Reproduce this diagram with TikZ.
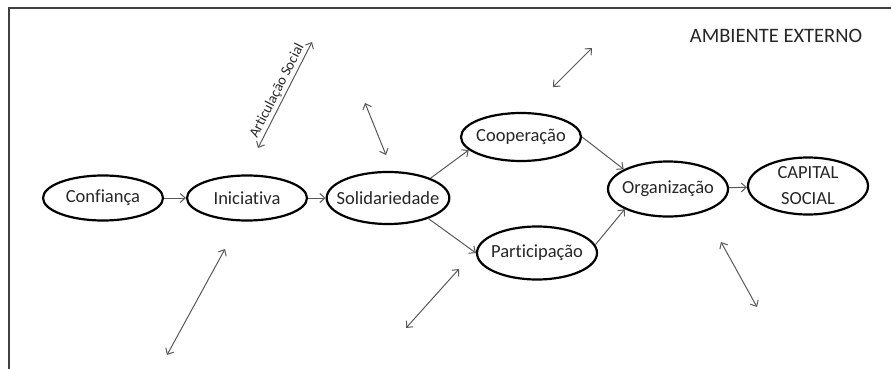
\documentclass[tikz,border=0pt]{standalone}
\usepackage{fontspec}
\setmainfont{Carlito}[Ligatures=CommonOff]
\usetikzlibrary{shapes,arrows.meta}

\begin{document}
\begin{tikzpicture}[x=1pt,y=-1pt,
        >={Straight Barb[length=5pt,width=9pt]},
        phase/.style={ellipse,draw,line width=2.2pt,minimum width=120pt,minimum height=48pt,
            inner xsep=-8pt,inner ysep=0pt,text=black!85,font=\fontsize{18.5}{21}\selectfont},
        flow/.style={->,draw=black!65,line width=1pt},
        link/.style={<->,draw=black!65,line width=1pt}]
        \useasboundingbox (0,0) rectangle (891,369);
        \draw[black!75,line width=2pt] (9,369) -- (9,8) -- (891,8);
        \draw node[text=black!85,font=\fontsize{20.5}{23}\selectfont] (amb) at (776,36) {AMBIENTE EXTERNO};
        % chain of ellipses
        \node[phase,minimum height=45pt] (conf) at (103,198) {Confiança};
        \node[phase,minimum height=45pt] (inic) at (247,198) {Iniciativa};
        \node[phase,minimum height=52pt] (sol) at (388,198) {Solidariedade};
        \node[phase] (coop) at (521,137) {Cooperação};
        \node[phase,minimum height=53pt] (part) at (537,253) {Participação};
        \node[phase,minimum height=55pt] (org) at (668,189) {Organização};
        \node[phase,minimum height=57pt,inner ysep=-3pt,align=center,font=\fontsize{18.5}{26}\selectfont] (cap) at (808,186) {CAPITAL\\SOCIAL};
        \draw[flow] (conf) -- (inic);
        \draw[flow] (inic) -- (sol);
        \draw[flow] (sol.25) -- (coop.194);
        \draw[flow] (sol.-27) -- (part.west);
        \draw[flow] (coop.east) -- (org.156);
        \draw[flow] (part.8) -- (org.205);
        \draw[flow] (org) -- (cap);
        % links with the outside
        \coordinate (art1) at (258,148);
        \coordinate (art2) at (312,42);
        \coordinate (sol1) at (365,103);
        \coordinate (sol2) at (386,155);
        \coordinate (top1) at (553,87);
        \coordinate (top2) at (592,48);
        \coordinate (low1) at (167,355);
        \coordinate (low2) at (225,249);
        \coordinate (mid1) at (406,328);
        \coordinate (mid2) at (459,269);
        \coordinate (rgt1) at (721,242);
        \coordinate (rgt2) at (757,307);
        \draw[link] (art1) -- node[midway,sloped,above,inner sep=2pt,text=black!85,font=\fontsize{14.5}{16}\selectfont] {Articulação Social} (art2);
        \draw[link] (sol1) -- (sol2);
        \draw[link] (top1) -- (top2);
        \draw[link] (low1) -- (low2);
        \draw[link] (mid1) -- (mid2);
        \draw[link] (rgt1) -- (rgt2);
    \end{tikzpicture}
\end{document}
